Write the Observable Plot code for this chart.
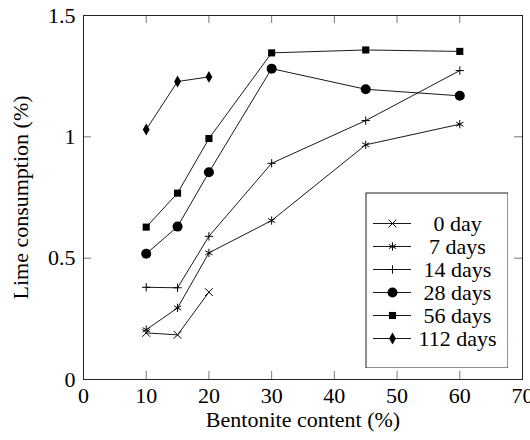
<!DOCTYPE html>
<html><head><meta charset="utf-8">
<script src="https://cdn.jsdelivr.net/npm/d3@7"></script>
<script src="https://cdn.jsdelivr.net/npm/@observablehq/plot@0.6"></script>
<style>
body{margin:0;background:#fff}
#wrap{position:relative;width:530px;height:440px}
#legend{position:absolute;left:365px;top:192px}
</style>
</head><body><div id="wrap"><div id="chart"></div><div id="legend"></div></div>
<script>
const bentonite = [10, 15, 20, 30, 45, 60];
const seriesNames = ["0 day", "7 days", "14 days", "28 days", "56 days", "112 days"];
const day0 = [0.192, 0.184, 0.360];
const day7 = [0.205, 0.295, 0.522, 0.655, 0.967, 1.052];
const day14 = [0.380, 0.378, 0.590, 0.891, 1.067, 1.273];
const day28 = [0.518, 0.630, 0.854, 1.281, 1.196, 1.169];
const day56 = [0.628, 0.768, 0.993, 1.346, 1.358, 1.352];
const day112 = [1.030, 1.228, 1.247];
const xTicks = [0, 10, 20, 30, 40, 50, 60, 70];
const yTicks = [0, 0.5, 1, 1.5];
const yTickLabels = ["0", "0.5", "1", "1.5"];
const xLabel = "Bentonite content (%)";
const yLabel = "Lime consumption (%)";

const seriesValues = [day0, day7, day14, day28, day56, day112];
const symbols = ["times", "asterisk", "plus", "circle", "square", "diamond"];
const filled = [false, false, false, true, true, true];
const sizes = [3.6, 3.9, 2.8, 5, 4, 3.6];

const rows = [];
seriesNames.forEach((name, s) => {
  seriesValues[s].forEach((v, i) => rows.push({series: name, x: bentonite[i], y: v, s}));
});

const W = 530, H = 440, mL = 83, mR = 8, mT = 15, mB = 61;
const iW = W - mL - mR, iH = H - mT - mB;
const font = "'Liberation Serif', 'Times New Roman', serif";
const FS = 22;

const dotMarks = seriesNames.map((name, s) => Plot.dot(rows.filter(d => d.s === s), {
  x: "x", y: "y", symbol: () => symbols[s], r: sizes[s],
  fill: filled[s] ? "black" : "none", stroke: filled[s] ? "none" : "black", strokeWidth: 1
}));

const chart = Plot.plot({
  width: W, height: H,
  marginLeft: mL, marginRight: mR, marginTop: mT, marginBottom: mB,
  style: {fontFamily: font, fontSize: FS + "px", color: "black", background: "white"},
  x: {domain: [0, 70]},
  y: {domain: [0, 1.5]},
  marks: [
    Plot.tickX(xTicks, {x: d => d, insetTop: iH - 8, stroke: "#777"}),
    Plot.tickX(xTicks, {x: d => d, insetBottom: iH - 8, stroke: "#777"}),
    Plot.tickY(yTicks, {y: d => d, insetLeft: iW - 8, stroke: "#777"}),
    Plot.tickY(yTicks, {y: d => d, insetRight: iW - 8, stroke: "#777"}),
    Plot.axisX(xTicks, {tickSize: 0, tickPadding: 8, label: null, fontSize: FS}),
    Plot.axisY(yTicks, {tickSize: 0, tickPadding: 8, label: null, fontSize: FS,
      tickFormat: d => yTickLabels[yTicks.indexOf(d)]}),
    Plot.line(rows, {x: "x", y: "y", z: "series", stroke: "black", strokeWidth: 0.9}),
    ...dotMarks,
    Plot.frame({stroke: "#222", strokeWidth: 1}),
    Plot.text([xLabel], {frameAnchor: "bottom", dy: 47, text: d => d, fontSize: FS, textAnchor: "middle"}),
    Plot.text([yLabel], {frameAnchor: "left", dx: -63, dy: 0, rotate: -90, text: d => d, fontSize: FS, textAnchor: "middle"})
  ]
});
document.getElementById("chart").appendChild(chart);

const legend = Plot.plot({
  width: 143, height: 176,
  margin: 0,
  style: {fontFamily: font, fontSize: FS + "px", color: "black", background: "white"},
  x: {type: "identity"},
  y: {type: "point", domain: seriesNames, range: [19, 158], axis: null},
  marks: [
    Plot.ruleY(seriesNames, {y: d => d, x1: 8, x2: 46, stroke: "black", strokeWidth: 0.9}),
    ...seriesNames.map((name, s) => Plot.dot([name], {
      x: 27, y: d => d, symbol: () => symbols[s], r: sizes[s],
      fill: filled[s] ? "black" : "none", stroke: filled[s] ? "none" : "black", strokeWidth: 1
    })),
    Plot.text(seriesNames, {x: 92, y: d => d, text: d => d, fontSize: FS, textAnchor: "middle"}),
    Plot.frame({inset: 0.5, stroke: "#222", strokeWidth: 1})
  ]
});
document.getElementById("legend").appendChild(legend);
</script>
</body></html>
